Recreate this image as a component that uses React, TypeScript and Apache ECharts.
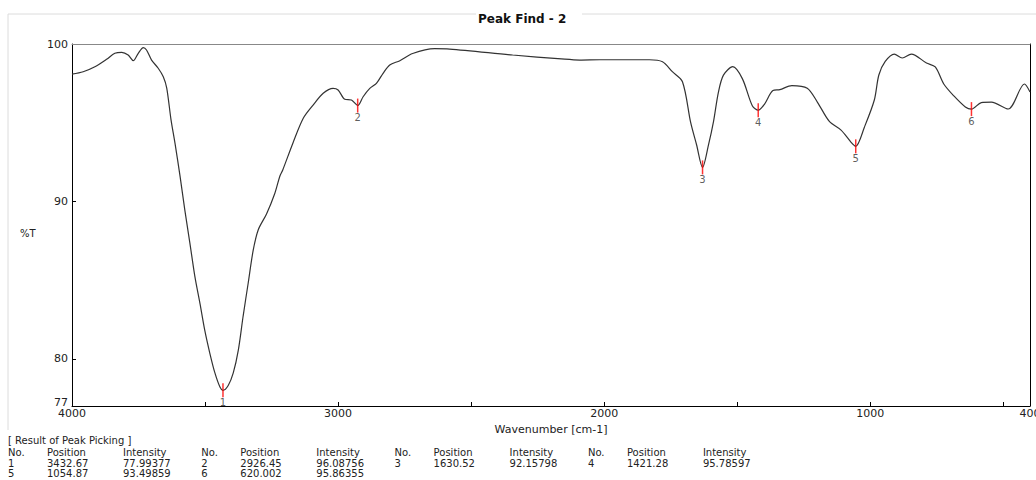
import React, { useEffect, useRef } from "react";
import * as echarts from "echarts";

// Spectrum (wavenumber cm-1, %T)
const wavenumbers = [
  4000, 3958, 3914, 3870, 3839, 3813, 3789, 3770, 3751, 3732, 3720, 3701, 3676, 3657, 3644, 3628,
  3613, 3594, 3576, 3557, 3538, 3519, 3501, 3482, 3463, 3444, 3433, 3413, 3394, 3375, 3357, 3338,
  3319, 3300, 3269, 3238, 3219, 3208, 3170, 3131, 3094, 3056, 3019, 3000, 2975, 2950, 2926, 2906,
  2881, 2856, 2831, 2806, 2768, 2720, 2637, 2581, 2344, 2161, 2092, 2017, 1830, 1781, 1744, 1706,
  1675, 1653, 1630.5, 1608, 1589, 1571, 1552, 1517, 1481, 1443, 1421, 1398, 1366, 1340, 1295, 1237,
  1198, 1154, 1110, 1073, 1055, 1022, 985, 968, 944, 910, 880, 846, 789, 756, 724, 686,
  643, 620, 583, 545, 482, 421, 400,
];
const transmittance = [
  98.09, 98.24, 98.56, 99.03, 99.41, 99.47, 99.3, 98.94, 99.41, 99.77, 99.62, 98.98, 98.46, 97.92, 97.2, 95.2,
  93.7, 91.6, 89.45, 87.35, 85.2, 83.5, 81.8, 80.35, 79.1, 78.2, 77.99, 78.3, 79.1, 80.55, 82.7, 84.8,
  86.9, 88.2, 89.2, 90.5, 91.6, 92.0, 93.7, 95.28, 96.12, 96.87, 97.18, 97.08, 96.49, 96.44, 96.09, 96.65,
  97.18, 97.5, 98.14, 98.67, 98.94, 99.4, 99.7, 99.68, 99.3, 99.05, 98.98, 99.0, 99.0, 98.87, 98.24, 97.6,
  95.0, 93.6, 92.16, 93.6, 95.1, 96.93, 98.02, 98.56, 97.8, 96.06, 95.79, 96.17, 97.04, 97.1, 97.36, 97.19,
  96.28, 95.08, 94.53, 93.77, 93.5, 94.73, 96.44, 98.03, 98.89, 99.36, 99.11, 99.36, 98.79, 98.54, 97.46, 96.7,
  96.0, 95.86, 96.28, 96.31, 95.87, 97.46, 96.95,
];

// Peak picking results
const peakNo = [1, 2, 3, 4, 5, 6];
const peakPosition = [3432.67, 2926.45, 1630.52, 1421.28, 1054.87, 620.002];
const peakIntensity = [77.99377, 96.08756, 92.15798, 95.78597, 93.49859, 95.86355];

// Axis ticks / labels
const xLabelValues = [4000, 3000, 2000, 1000, 400];
const xTickValues = [3500, 3000, 2500, 2000, 1500, 1000, 500];
const yLabelValues = [77, 80, 90, 100];
const yTickValues = [80, 90];
const tableHeaders = ["No.", "Position", "Intensity"];

const FONT = "DejaVu Sans";

export default function App() {
  const ref = useRef<HTMLDivElement>(null);

  useEffect(() => {
    if (!ref.current) return;
    const chart = echarts.init(ref.current, undefined, { renderer: "svg" });

    const tableTexts: any[] = [];
    const groupStep = 193.3;
    const colOffsets = [0, 39, 115];
    const rowY = [452, 463, 473.5];
    const textStyleBase = { font: `10px "${FONT}"`, fill: "#222", textVerticalAlign: "middle", textAlign: "left" };
    tableTexts.push({
      type: "text",
      x: 8,
      y: 440,
      style: { ...textStyleBase, text: "[ Result of Peak Picking ]" },
    });
    for (let g = 0; g < 4; g++) {
      tableHeaders.forEach((h, c) => {
        tableTexts.push({
          type: "text",
          x: 8 + g * groupStep + colOffsets[c],
          y: rowY[0],
          style: { ...textStyleBase, text: h },
        });
      });
    }
    peakNo.forEach((n, i) => {
      const row = Math.floor(i / 4);
      const g = i % 4;
      const vals = [String(n), String(peakPosition[i]), String(peakIntensity[i])];
      vals.forEach((v, c) => {
        tableTexts.push({
          type: "text",
          x: 8 + g * groupStep + colOffsets[c],
          y: rowY[row + 1],
          style: { ...textStyleBase, text: v },
        });
      });
    });

    const option: any = {
      animation: false,
      textStyle: { fontFamily: FONT },
      title: {
        text: "Peak Find - 2",
        left: 478,
        top: 13,
        padding: 0,
        textStyle: { fontFamily: FONT, fontSize: 12, fontWeight: "bold", color: "#111" },
      },
      grid: { left: 72, top: 44, right: 6, bottom: 74, containLabel: false, outerBoundsMode: "none" },
      xAxis: [
        {
          type: "value",
          inverse: true,
          min: 400,
          max: 4000,
          axisLine: { show: true, onZero: false, lineStyle: { color: "#000", width: 1 } },
          axisTick: { show: true, inside: true, length: 4, customValues: xTickValues, lineStyle: { color: "#000" } },
          axisLabel: {
            customValues: xLabelValues,
            formatter: (v: number) => String(v),
            margin: 2,
            color: "#222",
            fontSize: 11,
            fontFamily: FONT,
          },
          splitLine: { show: false },
          name: "Wavenumber [cm-1]",
          nameLocation: "middle",
          nameGap: 16,
          nameTextStyle: { color: "#222", fontSize: 11, fontFamily: FONT },
        },
        {
          type: "value",
          position: "top",
          inverse: true,
          min: 400,
          max: 4000,
          axisLine: { show: true, onZero: false, lineStyle: { color: "#888", width: 1 } },
          axisTick: { show: false },
          axisLabel: { show: false },
          splitLine: { show: false },
        },
      ],
      yAxis: [
        {
          type: "value",
          min: 77,
          max: 100,
          axisLine: { show: true, onZero: false, lineStyle: { color: "#000", width: 1 } },
          axisTick: { show: true, inside: true, length: 4, customValues: yTickValues, lineStyle: { color: "#000" } },
          axisLabel: {
            customValues: yLabelValues,
            formatter: (v: number) => (v === 77 ? "{lo|77}" : String(v)),
            rich: { lo: { fontSize: 11, fontFamily: FONT, color: "#222", padding: [0, 0, 8, 0] } },
            margin: 4,
            color: "#222",
            fontSize: 11,
            fontFamily: FONT,
          },
          splitLine: { show: false },
        },
        {
          type: "value",
          position: "right",
          min: 77,
          max: 100,
          axisLine: { show: true, onZero: false, lineStyle: { color: "#000", width: 1 } },
          axisTick: { show: false },
          axisLabel: { show: false },
          splitLine: { show: false },
        },
      ],
      series: [
        {
          type: "line",
          xAxisIndex: 0,
          yAxisIndex: 0,
          data: wavenumbers.map((w, i) => [w, transmittance[i]]),
          showSymbol: false,
          smooth: 0.3,
          lineStyle: { color: "#333", width: 1.2 },
          z: 2,
        },
        {
          type: "scatter",
          xAxisIndex: 0,
          yAxisIndex: 0,
          data: peakNo.map((n, i) => [peakPosition[i], peakIntensity[i], n]),
          symbol: "rect",
          symbolSize: [1.5, 14],
          itemStyle: { color: "#ff0000" },
          label: {
            show: true,
            position: "bottom",
            distance: 0,
            formatter: (p: any) => String(p.data[2]),
            color: "#333",
            fontSize: 10,
            fontFamily: FONT,
          },
          z: 3,
        },
      ],
      graphic: [
        { type: "line", shape: { x1: 8, y1: 14, x2: 476, y2: 14 }, style: { stroke: "#dcdcdc", lineWidth: 1 } },
        { type: "line", shape: { x1: 582, y1: 14, x2: 1036, y2: 14 }, style: { stroke: "#dcdcdc", lineWidth: 1 } },
        { type: "line", shape: { x1: 8, y1: 14, x2: 8, y2: 430 }, style: { stroke: "#dcdcdc", lineWidth: 1 } },
        {
          type: "text",
          x: 20,
          y: 233,
          style: { text: "%T", font: `10px "${FONT}"`, fill: "#222", textVerticalAlign: "middle", textAlign: "left" },
        },
        ...tableTexts,
      ],
    };

    chart.setOption(option);
    return () => chart.dispose();
  }, []);

  return (
    <div
      ref={ref}
      style={{ position: "fixed", left: 0, top: 0, width: 1036, height: 480, background: "#fff" }}
    />
  );
}
